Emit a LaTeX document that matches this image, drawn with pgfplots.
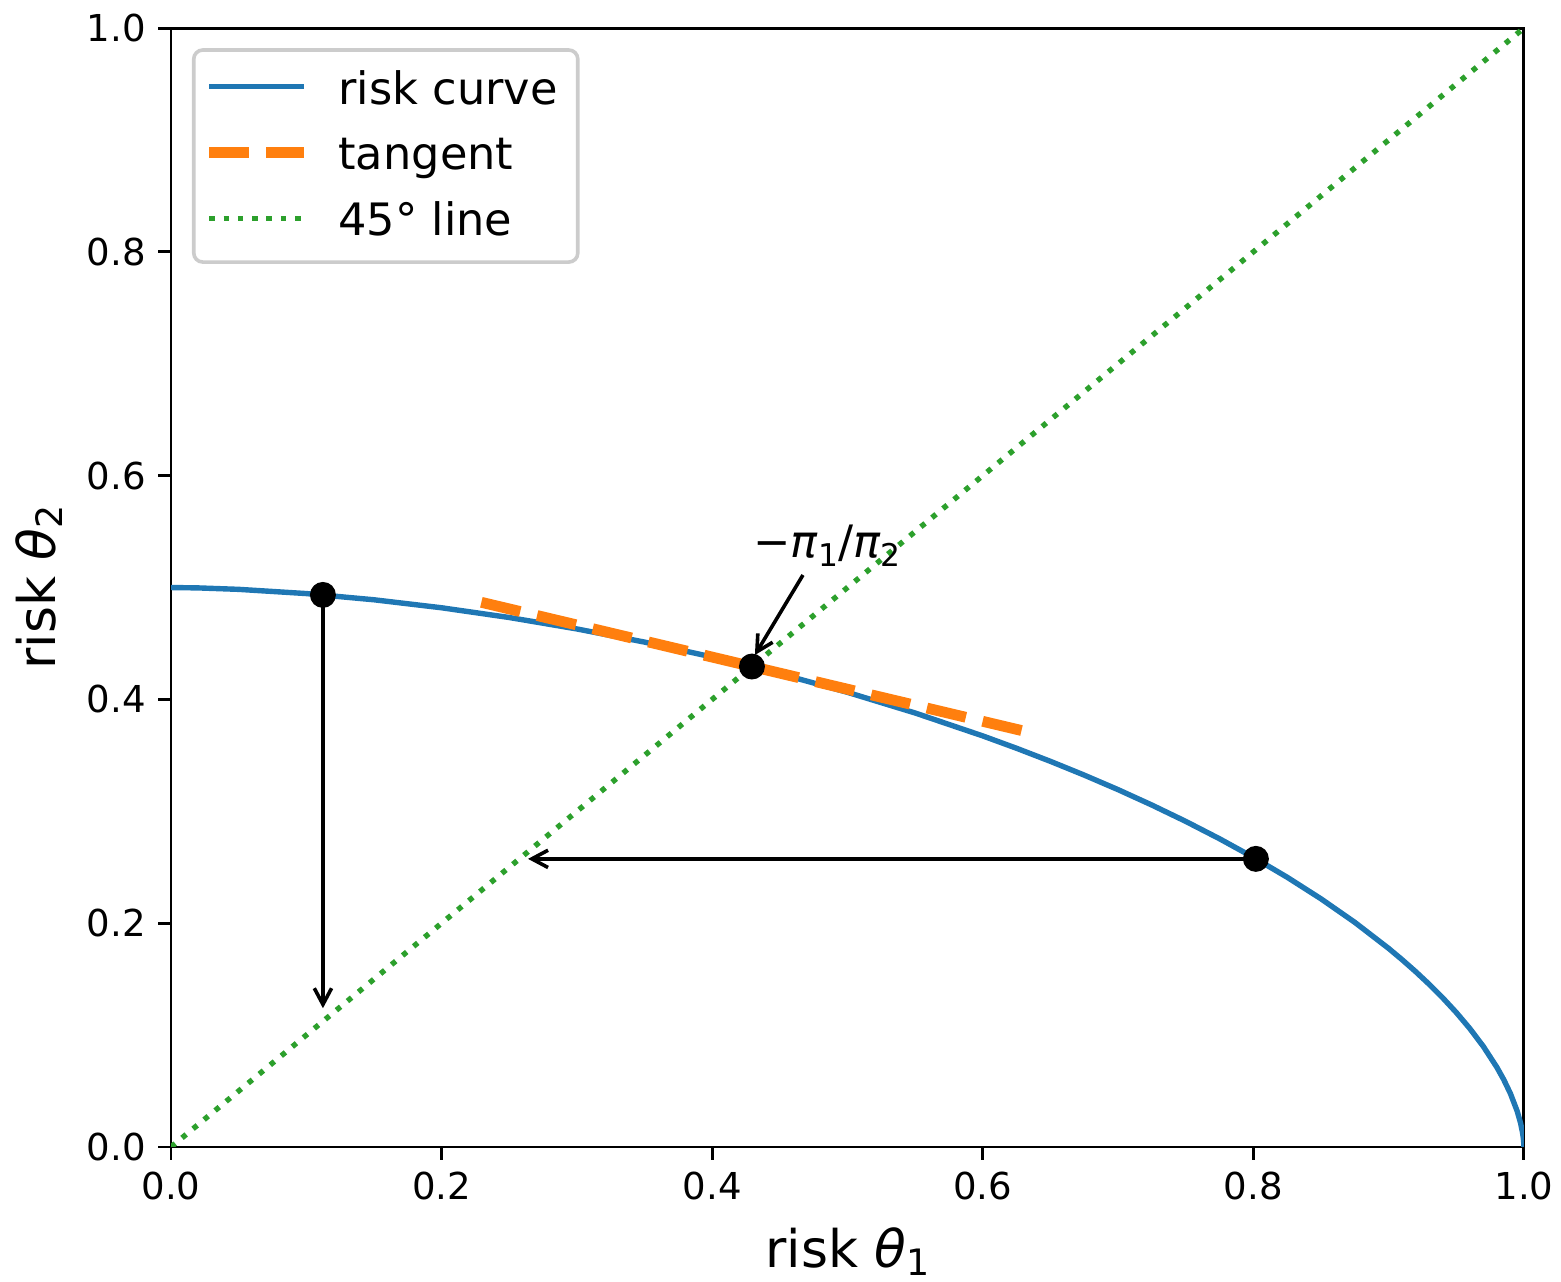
\documentclass[border=0pt]{standalone}
\usepackage{pgfplots}
\pgfplotsset{compat=1.18}
\usepackage{fontspec}
\setmainfont{DejaVu Sans}
\usetikzlibrary{arrows.meta}
\definecolor{tabblue}{HTML}{1F77B4}
\definecolor{taborange}{HTML}{FF7F0E}
\definecolor{tabgreen}{HTML}{2CA02C}
\newcommand{\subl}[1]{\raisebox{-2.2pt}{\fontsize{10.1pt}{10pt}\selectfont #1}}
\newcommand{\subs}[1]{\raisebox{-2.3pt}{\fontsize{8.7pt}{9pt}\selectfont #1}}
\pgfplotsset{legend image code/.code={\draw[#1] (0pt,1pt) -- (26.4pt,1pt);}}
\pgfplotstableread{
x y
0 0.5
0.02 0.49967
0.05 0.49837
0.1 0.49460
0.15 0.48906
0.2 0.48191
0.25 0.47321
0.3 0.46299
0.35 0.45124
0.4 0.43793
0.45 0.42300
0.5 0.40635
0.55 0.38788
0.6 0.36740
0.625 0.35633
0.65 0.34467
0.675 0.33236
0.7 0.31937
0.725 0.30560
0.75 0.29102
0.775 0.27548
0.8 0.25889
0.825 0.24108
0.85 0.22180
0.875 0.20076
0.9 0.17747
0.91 0.16735
0.92 0.15669
0.93 0.14537
0.94 0.13327
0.95 0.12020
0.96 0.10588
0.97 0.08986
0.98 0.07122
0.985 0.06038
0.99 0.04781
0.995 0.03206
0.9975 0.02149
0.999 0.01266
0.9995 0.00848
0.9999 0.00335
1 0
}\riskcurve
\begin{document}
\begin{tikzpicture}
\begin{axis}[
  scale only axis, width=375.8pt, height=310.8pt,
  xmin=0, xmax=1, ymin=0, ymax=1,
  axis line style={black, line width=0.8pt},
  tick align=outside, tick pos=left,
  major tick length=3.5pt,
  every tick/.style={black, line width=0.8pt},
  xtick={0,0.2,0.4,0.6,0.8,1}, ytick={0,0.2,0.4,0.6,0.8,1},
  xticklabels={0.0,0.2,0.4,0.6,0.8,1.0},
  yticklabels={0.0,0.2,0.4,0.6,0.8,1.0},
  ticklabel style={font=\fontsize{10.3pt}{12pt}\selectfont},
  xlabel={risk \textit{θ}\subl{1}},
  ylabel={risk \textit{θ}\subl{2}},
  xlabel style={at={([yshift=-33.4pt]axis description cs:0.5,0)}, anchor=base, inner sep=0pt, font=\fontsize{14.4pt}{16pt}\selectfont},
  ylabel style={at={([xshift=-32.2pt]axis description cs:0,0.5)}, anchor=base, inner sep=0pt, font=\fontsize{14.4pt}{16pt}\selectfont},
  legend style={at={(0.0155,0.982)}, anchor=north west,
    draw=black!20, line width=1pt, rounded corners=2.5pt, fill=white,
    font=\fontsize{12.4pt}{14pt}\selectfont,
    inner xsep=2.8pt, inner ysep=4.2pt, row sep=4.4pt,
    nodes={inner sep=0pt, text height=10.8pt, text depth=3.1pt},
    /tikz/every odd column/.append style={column sep=8pt}},
  legend cell align=left,
]
\addplot[tabblue, line width=1.5pt] table[x=x, y=y] {\riskcurve};
\addlegendentry{risk curve\hspace*{2.8pt}}
\addplot[taborange, line width=3pt, dash pattern=on 11.1pt off 4.8pt] coordinates {(0.2294,0.4868) (0.6294,0.3720)};
\addlegendentry{tangent}
\addplot[tabgreen, line width=1.5pt, dash pattern=on 1.5pt off 2.475pt] coordinates {(0,0) (1,1)};
\addlegendentry{45° line}
\addplot[black, line width=1pt, -{Straight Barb[length=4.5pt, width=4.8pt]}, forget plot] coordinates {(0.1123,0.4934) (0.1123,0.124)};
\addplot[black, line width=1pt, -{Straight Barb[length=4.5pt, width=4.8pt]}, forget plot] coordinates {(0.8019,0.2575) (0.2639,0.2575)};
\addplot[black, line width=1pt, -{Straight Barb[length=4.5pt, width=4.8pt]}, forget plot] coordinates {(0.4671,0.5112) (0.4316,0.4397)};
\addplot[only marks, mark=*, mark size=3.4pt, black, forget plot] coordinates {(0.1123,0.4934) (0.4294,0.4294) (0.8019,0.2575)};
\node[anchor=base west, inner sep=0pt, font=\fontsize{12.4pt}{14pt}\selectfont] at (axis cs:0.4300,0.5264) {−\textit{π}\subs{1}/\textit{π}\subs{2}};
\end{axis}
\pgfresetboundingbox
\path[use as bounding box] ([shift={(-47.5pt,-37.5pt)}]current axis.south west) rectangle ([shift={(10.3pt,7.8pt)}]current axis.north east);
\end{tikzpicture}
\end{document}
